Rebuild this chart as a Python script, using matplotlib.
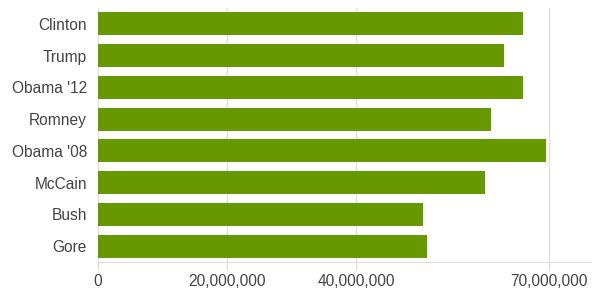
import matplotlib
matplotlib.use("Agg")
import matplotlib.pyplot as plt
from matplotlib.ticker import FuncFormatter

candidates = ["Clinton", "Trump", "Obama '12", "Romney", "Obama '08", "McCain", "Bush", "Gore"]
votes = [65853514, 62984828, 65915795, 60933504, 69498516, 59948323, 50456002, 50999897]
xticks = [0, 20000000, 40000000, 70000000]

plt.rcParams["font.family"] = ["Liberation Sans", "DejaVu Sans"]

fig = plt.figure(figsize=(5.92, 2.96), dpi=100)
ax = fig.add_axes([98 / 592, 34 / 296, 494 / 592, 254 / 296])

ax.barh(range(len(candidates)), votes, height=0.72, color="#669900", zorder=3)

ax.set_ylim(len(candidates) - 0.5, -0.5)
ax.set_xlim(0, 76600000)
ax.set_yticks(range(len(candidates)))
ax.set_yticklabels(candidates)
ax.set_xticks(xticks)
ax.xaxis.set_major_formatter(FuncFormatter(lambda v, p: f"{int(v):,}"))

ax.grid(axis="x", color="#e0e0e0", linewidth=1, zorder=0)
for s in ["top", "right"]:
    ax.spines[s].set_visible(False)
for s in ["left", "bottom"]:
    ax.spines[s].set_color("#dddddd")
    ax.spines[s].set_zorder(1)

ax.tick_params(axis="y", length=0, pad=8, labelsize=11.2, labelcolor="#444444")
ax.tick_params(axis="x", length=6, width=1, color="#dddddd", pad=3,
               labelsize=11.2, labelcolor="#444444")

fig.savefig("out.png", dpi=100)
